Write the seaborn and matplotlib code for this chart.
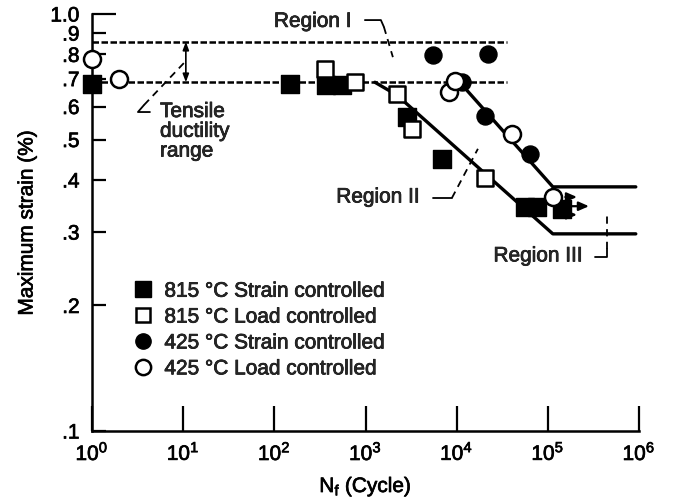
import matplotlib
matplotlib.use("Agg")
import matplotlib.pyplot as plt
import matplotlib.patheffects as pe
import seaborn as sns
import numpy as np
import pandas as pd

# ---------------- data ----------------
# 815 C strain controlled (filled squares)
n_815_strain = [1, 148, 368, 551, 2840, 6900, 56000, 75700, 142500]
s_815_strain = [0.68, 0.68, 0.675, 0.675, 0.566, 0.449, 0.344, 0.344, 0.340]
# 815 C load controlled (open squares)
n_815_load = [359, 765, 2210, 3230, 20400]
s_815_load = [0.738, 0.686, 0.643, 0.530, 0.404]
# 425 C strain controlled (filled circles)
n_425_strain = [5480, 21900, 11400, 20400, 63500]
s_425_strain = [0.797, 0.80, 0.686, 0.569, 0.462]
# 425 C load controlled (open circles)
n_425_load = [1, 2.0, 8200, 9550, 40300, 113500]
s_425_load = [0.78, 0.70, 0.650, 0.691, 0.516, 0.364]

# tensile ductility range (dashed bounds)
ductility_upper = 0.858
ductility_lower = 0.686
ductility_n = [1, 36000]
ductility_arrow_n = 10.7

# fitted lines
line_815_n = [1268, 2210, 113500, 922000]
line_815_s = [0.686, 0.639, 0.297, 0.297]
line_425_n = [10800, 113500, 922000]
line_425_s = [0.686, 0.385, 0.385]

# runout arrows
runout_start_n = [145000, 145000, 145000]
runout_end_n = [224000, 303000, 224000]
runout_s = [0.364, 0.346, 0.330]

labels = ["815 °C Strain controlled", "815 °C Load controlled",
          "425 °C Strain controlled", "425 °C Load controlled"]
ytick_vals = [0.1, 0.2, 0.3, 0.4, 0.5, 0.6, 0.7, 0.8, 0.9, 1.0]
ytick_labels = [".1", ".2", ".3", ".4", ".5", ".6", ".7", ".8", ".9", "1.0"]
xtick_vals = [1, 10, 100, 1e3, 1e4, 1e5, 1e6]
xtick_labels = ["10$^{0}$", "10$^{1}$", "10$^{2}$", "10$^{3}$",
                "10$^{4}$", "10$^{5}$", "10$^{6}$"]

# ---------------- style ----------------
sns.set_theme(style="white")
plt.rcParams["font.family"] = ["Liberation Sans", "DejaVu Sans"]
plt.rcParams["mathtext.default"] = "regular"
plt.rcParams["mathtext.fontset"] = "custom"
plt.rcParams["mathtext.rm"] = "Liberation Sans"

FS = 15
heavy = [pe.withStroke(linewidth=0.5, foreground="black")]

fig = plt.figure(figsize=(6.76, 5.02), dpi=100)
ax = fig.add_axes([92 / 676, (502 - 432) / 502, (639 - 92) / 676, (432 - 15) / 502])
ax.set_xscale("log")
ax.set_yscale("log")
ax.set_xlim(1, 1e6)
ax.set_ylim(0.1, 1.0)

# dashed tensile ductility bounds
for lvl in (ductility_upper, ductility_lower):
    ax.plot(ductility_n, [lvl, lvl], color="black", lw=1.8, ls=(0, (2.6, 1.0)),
            zorder=2)

# solid fitted lines
df815 = pd.DataFrame({"n": line_815_n, "s": line_815_s})
df425 = pd.DataFrame({"n": line_425_n, "s": line_425_s})
sns.lineplot(data=df815, x="n", y="s", ax=ax, color="black", lw=2.4,
             sort=False, estimator=None, zorder=2)
sns.lineplot(data=df425, x="n", y="s", ax=ax, color="black", lw=2.4,
             sort=False, estimator=None, zorder=2)

# markers
ms = 150
sns.scatterplot(x=n_815_strain, y=s_815_strain, ax=ax, marker="s", s=ms,
                color="black", edgecolor="black", linewidth=1, zorder=4, clip_on=False)
sns.scatterplot(x=n_815_load, y=s_815_load, ax=ax, marker="s", s=120,
                facecolor="white", edgecolor="black", linewidth=1.8, zorder=4, clip_on=False)
sns.scatterplot(x=n_425_strain, y=s_425_strain, ax=ax, marker="o", s=ms,
                color="black", edgecolor="black", linewidth=1, zorder=4, clip_on=False)
sns.scatterplot(x=n_425_load, y=s_425_load, ax=ax, marker="o", s=ms,
                facecolor="white", edgecolor="black", linewidth=1.8, zorder=5, clip_on=False)

# runout arrows
for n0, n1, sv in zip(runout_start_n, runout_end_n, runout_s):
    ax.annotate("", xy=(n1, sv), xytext=(n0, sv),
                arrowprops=dict(arrowstyle="-|>,head_length=0.5,head_width=0.22",
                                color="black", lw=1.6), zorder=3)

# tensile ductility double arrow
ax.annotate("", xy=(ductility_arrow_n, ductility_upper),
            xytext=(ductility_arrow_n, ductility_lower),
            arrowprops=dict(arrowstyle="<|-|>,head_length=0.4,head_width=0.15",
                            color="black", lw=1.2, shrinkA=0, shrinkB=0))

# annotations text
ax.text(5.57, 0.615, "Tensile\nductility\nrange", fontsize=FS, ha="left", va="top",
        linespacing=1.05, path_effects=heavy)
ax.plot([4.32, 3.19, 3.72], [0.582, 0.582, 0.605], color="black", lw=1.3)
ax.plot([3.72, 10.2], [0.605, 0.763], color="black", lw=1.3, ls=(0, (4, 3)))

ax.text(99, 0.96, "Region I", fontsize=FS, ha="left", va="center", path_effects=heavy)
ax.plot([985, 1475, 1592], [0.967, 0.967, 0.931], color="black", lw=1.3)
ax.plot([1592, 1997], [0.931, 0.788], color="black", lw=1.3, ls=(0, (4, 3)))

ax.text(3950, 0.364, "Region II", fontsize=FS, ha="right", va="center", path_effects=heavy)
ax.plot([5480, 8860], [0.362, 0.362], color="black", lw=1.3)
ax.plot([8860, 17100], [0.362, 0.475], color="black", lw=1.3, ls=(0, (4, 3)))

ax.text(242000, 0.263, "Region III", fontsize=FS, ha="right", va="center", path_effects=heavy)
ax.plot([327000, 443000, 443000], [0.262, 0.262, 0.273], color="black", lw=1.3)
ax.plot([443000, 443000], [0.273, 0.331], color="black", lw=1.3, ls=(0, (4, 3)))

# legend
handles = [
    plt.Line2D([], [], marker="s", ls="none", color="black", markersize=11),
    plt.Line2D([], [], marker="s", ls="none", markerfacecolor="white",
               markeredgecolor="black", markeredgewidth=1.8, markersize=10),
    plt.Line2D([], [], marker="o", ls="none", color="black", markersize=11),
    plt.Line2D([], [], marker="o", ls="none", markerfacecolor="white",
               markeredgecolor="black", markeredgewidth=1.8, markersize=11),
]
leg = ax.legend(handles, labels, loc="upper left", bbox_to_anchor=(0.06, 0.378),
                frameon=False, fontsize=FS, handlelength=0.9, handletextpad=0.6,
                labelspacing=0.33, borderaxespad=0)
for t in leg.get_texts():
    t.set_path_effects(heavy)

# axes, ticks
for side in ("top", "right"):
    ax.spines[side].set_visible(False)
for side in ("left", "bottom"):
    ax.spines[side].set_linewidth(1.8)
    ax.spines[side].set_color("black")

ax.yaxis.set_major_locator(matplotlib.ticker.FixedLocator(ytick_vals))
ax.yaxis.set_minor_locator(matplotlib.ticker.NullLocator())
ax.set_yticklabels(ytick_labels)
ax.xaxis.set_major_locator(matplotlib.ticker.FixedLocator(xtick_vals))
ax.xaxis.set_minor_locator(matplotlib.ticker.NullLocator())
ax.set_xticklabels(xtick_labels)

ax.tick_params(axis="y", direction="in", length=10, width=1.6, pad=9,
               labelsize=FS, colors="black", left=True)
ax.tick_params(axis="x", direction="in", length=18, width=1.6, pad=8,
               labelsize=FS, colors="black", bottom=True)
ax.yaxis.get_major_ticks()[-1].tick1line.set_markersize(17)
for lab in ax.get_xticklabels() + ax.get_yticklabels():
    lab.set_path_effects(heavy)

ax.set_xlabel("N$_{f}$ (Cycle)", fontsize=FS, labelpad=8, color="black",
              path_effects=heavy)
ax.set_ylabel("Maximum strain (%)", fontsize=FS, labelpad=10, color="black",
              path_effects=heavy)
ax.grid(False)

fig.savefig("out.png", dpi=100)
